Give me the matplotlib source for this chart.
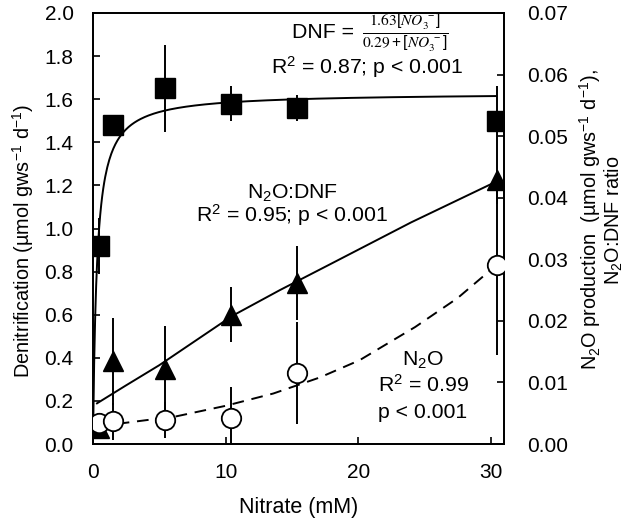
import matplotlib
matplotlib.use('Agg')
import matplotlib.pyplot as plt
import numpy as np

plt.rcParams['font.family'] = ['Liberation Sans', 'DejaVu Sans']
plt.rcParams['mathtext.fontset'] = 'custom'
plt.rcParams['mathtext.rm'] = 'Liberation Sans'
plt.rcParams['mathtext.it'] = 'Liberation Sans:italic'
plt.rcParams['mathtext.default'] = 'regular'

# nitrate treatments (mM)
nitrate = [0.45, 1.5, 5.4, 10.4, 15.4, 30.5]

# denitrification (left axis) with error
dnf = [0.92, 1.48, 1.65, 1.58, 1.56, 1.50]
dnf_err = [0.13, 0.03, 0.20, 0.08, 0.06, 0.16]

# N2O:DNF ratio (right axis)
ratio = [0.0026, 0.0134, 0.0121, 0.0210, 0.0261, 0.0429]
ratio_err = [0.0010, 0.0070, 0.0070, 0.0045, 0.0060, 0.0040]

# N2O production (right axis)
n2o = [0.0034, 0.0037, 0.0039, 0.0042, 0.0115, 0.0290]
n2o_err = [0.0010, 0.0030, 0.0030, 0.0050, 0.0083, 0.0145]

# DNF Michaelis-Menten fit from the label
vmax, km = 1.63, 0.29
fit_x = np.linspace(0.01, 30.4, 400)

# fitted curves
ratio_fit_x = [0.3, 2.4, 5.0, 10.5, 14.1, 17.8, 24.0, 30.4]
ratio_fit_y = [0.0066, 0.0094, 0.0128, 0.0208, 0.0250, 0.0291, 0.0360, 0.0426]
n2o_fit_x = [0.4, 2.3, 6.3, 10.0, 13.6, 17.1, 20.1, 24.3, 27.5, 30.4]
n2o_fit_y = [0.0031, 0.0034, 0.0045, 0.0062, 0.0082, 0.0108, 0.0136, 0.0190, 0.0237, 0.0290]

fs_tick = 15
fs_txt = 15.3
fig = plt.figure(figsize=(6.24, 5.18), dpi=100)
ax = fig.add_axes([93/624, 1 - 444/518, 411/624, 431/518])
ax2 = ax.twinx()

ax.set_xlim(0, 31)
ax.set_ylim(0, 2.0)
ax2.set_ylim(0, 0.07)

lw = 1.4
# DNF curve + points
ax.plot(fit_x, vmax * fit_x / (km + fit_x), color='black', lw=lw, zorder=2)
ax.errorbar(nitrate, dnf, yerr=dnf_err, fmt='none', ecolor='black', elinewidth=lw, capsize=0, zorder=3)
ax.plot(nitrate, dnf, 's', color='black', markersize=15, zorder=4)

# right axis series
ax2.errorbar(nitrate, ratio, yerr=ratio_err, fmt='none', ecolor='black', elinewidth=lw, capsize=0, zorder=2)
ax2.errorbar(nitrate, n2o, yerr=n2o_err, fmt='none', ecolor='black', elinewidth=lw, capsize=0, zorder=2)
ax2.plot(ratio_fit_x, ratio_fit_y, color='black', lw=lw, zorder=3)
ax2.plot(n2o_fit_x, n2o_fit_y, color='black', lw=lw, dashes=(6, 4), zorder=3)
ax2.plot(nitrate, ratio, '^', color='black', markersize=14, zorder=4)
ax2.plot(nitrate, n2o, 'o', markerfacecolor='white', markeredgecolor='black',
         markeredgewidth=1.3, markersize=14, zorder=4)

ax.set_xticks([0, 10, 20, 30])
ax.set_yticks(np.arange(0, 2.01, 0.2))
ax.set_yticklabels([f'{v:.1f}' for v in np.arange(0, 2.01, 0.2)])
ax2.set_yticks(np.arange(0, 0.0701, 0.01))
ax2.set_yticklabels([f'{v:.2f}' for v in np.arange(0, 0.0701, 0.01)])

ax.tick_params(axis='both', direction='in', length=5, width=1.2, labelsize=fs_tick, pad=14,
               top=False)
ax2.tick_params(axis='y', direction='in', length=5, width=1.2, labelsize=fs_tick, pad=17)
for a in (ax, ax2):
    for s in a.spines.values():
        s.set_linewidth(1.3)

ax.set_xlabel('Nitrate (mM)', fontsize=15.5)
ax.set_ylabel('Denitrification (µmol gws$^{-1}$ d$^{-1}$)', fontsize=14.3)
ax.yaxis.set_label_coords(-0.138, 0.471)
ax.xaxis.set_label_coords(0.5, -0.122)
ax2.set_ylabel('N$_2$O production  (µmol gws$^{-1}$ d$^{-1}$),\nN$_2$O:DNF ratio',
               fontsize=14.3, linespacing=1.0)
ax2.yaxis.set_label_coords(1.177, 0.52)

# annotations (pixel positions converted to axes fraction)
def axpos(px, py):
    return ((px - 93) / 411, (444 - py) / 431)

ax.text(*axpos(360, 32), 'DNF = ', fontsize=fs_txt, ha='right', va='center', transform=ax.transAxes)
ax.text(*axpos(362, 33),
        r'$\frac{\mathrm{1.63}[\mathit{NO}_{\mathrm{3}}^{\ -}]}{\mathrm{0.29}+[\mathit{NO}_{\mathrm{3}}^{\ -}]}$',
        fontsize=16, ha='left', va='center', math_fontfamily='stix', transform=ax.transAxes)
ax.text(*axpos(367, 67), 'R$^2$ = 0.87; p < 0.001', fontsize=fs_txt, ha='center', va='center',
        transform=ax.transAxes)
ax.text(*axpos(292, 193), 'N$_2$O:DNF', fontsize=fs_txt, ha='center', va='center', transform=ax.transAxes)
ax.text(*axpos(292, 215), 'R$^2$ = 0.95; p < 0.001', fontsize=fs_txt, ha='center', va='center',
        transform=ax.transAxes)
ax.text(*axpos(423, 360), 'N$_2$O', fontsize=fs_txt, ha='center', va='center', transform=ax.transAxes)
ax.text(*axpos(423, 385), 'R$^2$ = 0.99', fontsize=fs_txt, ha='center', va='center', transform=ax.transAxes)
ax.text(*axpos(423, 412), 'p < 0.001', fontsize=fs_txt, ha='center', va='center', transform=ax.transAxes)

fig.savefig('out.png', dpi=100)
